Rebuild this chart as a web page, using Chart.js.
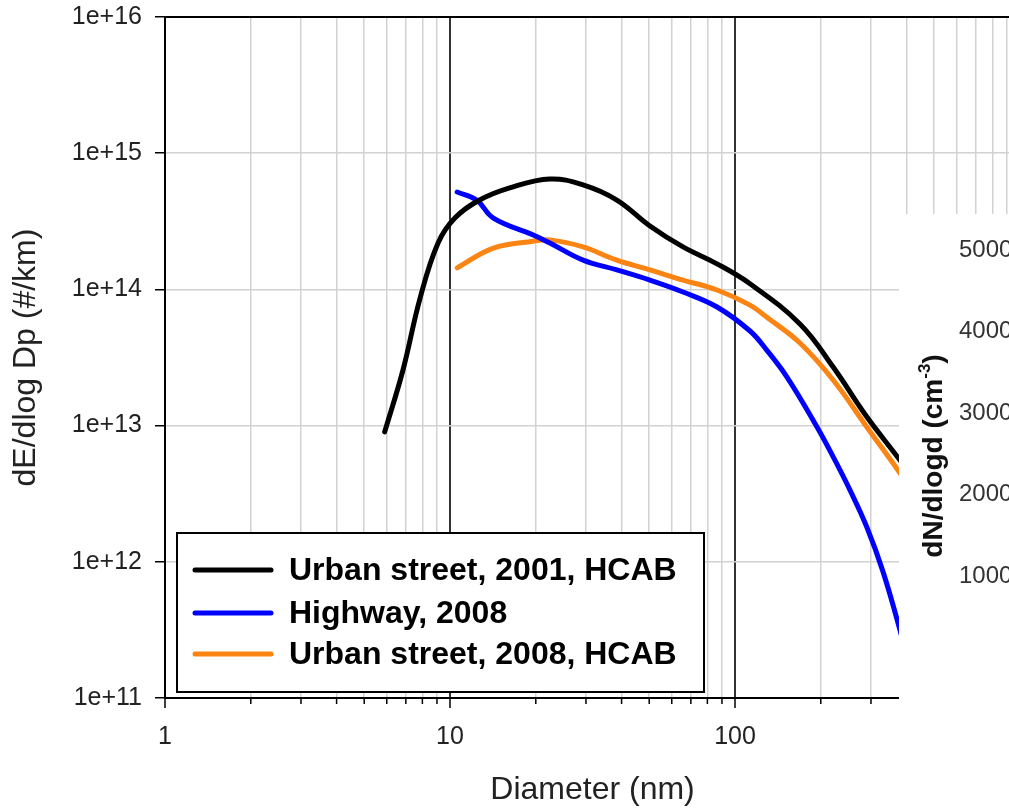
<!DOCTYPE html>
<html>
<head>
<meta charset="utf-8">
<script src="https://cdn.jsdelivr.net/npm/chart.js@4.4.0/dist/chart.umd.min.js"></script>
<style>
html, body { margin: 0; padding: 0; background: #fff; overflow: hidden; }
#wrap { width: 1009px; height: 809px; overflow: hidden; }
</style>
</head>
<body>
<div id="wrap"><canvas id="grafico" width="1030" height="809"></canvas></div>
<script>
// valores (diametro em nm, dE/dlog Dp em #/km)
const diamUrban2001 = [5.9, 6.84, 7.85, 9.08, 10.4, 12.7, 16.2, 22.4, 29.3, 38.5, 50.3, 65.7, 86.5, 112.9, 169, 221, 290, 379, 420];
const urban2001 = [9.0e12, 2.56e13, 8.6e13, 2.19e14, 3.34e14, 4.53e14, 5.56e14, 6.47e14, 5.85e14, 4.53e14, 2.92e14, 2.05e14, 1.54e14, 1.10e14, 5.57e13, 2.69e13, 1.16e13, 5.58e12, 4.1e12];

const diamHighway = [10.6, 12.4, 14.2, 19.6, 22.4, 29.3, 38.5, 50.3, 65.7, 86.5, 112.9, 129, 152, 194, 221, 253, 290, 331, 379, 420];
const highway2008 = [5.19e14, 4.53e14, 3.34e14, 2.51e14, 2.19e14, 1.64e14, 1.39e14, 1.17e14, 9.57e13, 7.43e13, 4.95e13, 3.6e13, 2.28e13, 9.77e12, 5.9e12, 3.37e12, 1.8e12, 8.4e11, 3.16e11, 1.35e11];

const diamUrban2008 = [10.6, 14.2, 19.6, 22.4, 29.3, 38.5, 50.3, 65.7, 86.5, 112.9, 129, 169, 221, 290, 379, 420];
const urban2008 = [1.44e14, 2.01e14, 2.26e14, 2.31e14, 2.05e14, 1.64e14, 1.39e14, 1.17e14, 9.9e13, 7.67e13, 6.27e13, 4.04e13, 2.16e13, 9.77e12, 4.49e12, 3.25e12];

const nomes = ['Urban street, 2001, HCAB', 'Highway, 2008', 'Urban street, 2008, HCAB'];
const cores = ['#000000', '#0000ff', '#fb8412'];

const xMajor = [1, 10, 100, 1000];
const xLabels = ['1', '10', '100', ''];
const yMajor = [1e11, 1e12, 1e13, 1e14, 1e15, 1e16];
const yLabels = ['1e+11', '1e+12', '1e+13', '1e+14', '1e+15', '1e+16'];

// textos do grafico vizinho que aparece cortado a direita
const painelTicks = ['5000', '4000', '3000', '2000', '1000'];

const FONTE = "'Liberation Sans', Arial, sans-serif";

function pares(xs, ys) {
  return xs.map(function (x, i) { return { x: x, y: ys[i] }; });
}

function ehMajor(v) {
  return xMajor.indexOf(v) >= 0;
}

// ticks menores do eixo x: 2..9 de cada decada
const xTodos = [];
xMajor.forEach(function (d, i) {
  xTodos.push(d);
  if (i < xMajor.length - 1) {
    for (let k = 2; k <= 9; k++) xTodos.push(d * k);
  }
});

const extras = {
  id: 'extras',
  afterDraw: function (chart) {
    const ctx = chart.ctx;
    const area = chart.chartArea;
    const xs = chart.scales.x;

    // linha de cima
    ctx.save();
    ctx.strokeStyle = '#000';
    ctx.lineWidth = 2;
    ctx.beginPath();
    ctx.moveTo(area.left, area.top);
    ctx.lineTo(chart.width, area.top);
    ctx.stroke();

    // ticks curtos
    ctx.lineWidth = 1.5;
    xTodos.forEach(function (v) {
      if (ehMajor(v)) return;
      const px = xs.getPixelForValue(v);
      ctx.beginPath();
      ctx.moveTo(px, area.bottom);
      ctx.lineTo(px, area.bottom + 6);
      ctx.stroke();
    });

    // legenda
    const bx = 177, by = 533, bw = 527, bh = 159;
    ctx.fillStyle = '#fff';
    ctx.fillRect(bx, by, bw, bh);
    ctx.strokeStyle = '#000';
    ctx.lineWidth = 2;
    ctx.strokeRect(bx, by, bw, bh);
    const linhas = [570, 613, 654];
    chart.data.datasets.forEach(function (ds, i) {
      ctx.strokeStyle = ds.borderColor;
      ctx.lineWidth = 5;
      ctx.lineCap = 'round';
      ctx.beginPath();
      ctx.moveTo(195, linhas[i]);
      ctx.lineTo(271, linhas[i]);
      ctx.stroke();
      ctx.fillStyle = '#000';
      ctx.font = 'bold 32px ' + FONTE;
      ctx.textBaseline = 'middle';
      ctx.textAlign = 'left';
      ctx.fillText(ds.label, 289, linhas[i] + 1);
    });

    // painel branco do outro grafico
    ctx.fillStyle = '#fff';
    ctx.fillRect(899, 214, chart.width - 899, chart.height - 214);
    ctx.fillStyle = '#333';
    ctx.font = '24px ' + FONTE;
    ctx.textAlign = 'left';
    ctx.textBaseline = 'middle';
    painelTicks.forEach(function (t, i) {
      ctx.fillText(t, 959, 250 + i * 81.5);
    });

    ctx.translate(934, 456);
    ctx.rotate(-Math.PI / 2);
    ctx.fillStyle = '#111';
    const t1 = 'dN/dlogd (cm', sup = '-3', t2 = ')';
    ctx.font = 'bold 28px ' + FONTE;
    const w1 = ctx.measureText(t1).width;
    const w3 = ctx.measureText(t2).width;
    ctx.font = 'bold 17px ' + FONTE;
    const w2 = ctx.measureText(sup).width;
    const x0 = -(w1 + w2 + w3) / 2;
    ctx.textAlign = 'left';
    ctx.textBaseline = 'middle';
    ctx.font = 'bold 28px ' + FONTE;
    ctx.fillText(t1, x0, 0);
    ctx.font = 'bold 17px ' + FONTE;
    ctx.fillText(sup, x0 + w1, -9);
    ctx.font = 'bold 28px ' + FONTE;
    ctx.fillText(t2, x0 + w1 + w2, 0);
    ctx.restore();
  }
};

const series = [
  pares(diamUrban2001, urban2001),
  pares(diamHighway, highway2008),
  pares(diamUrban2008, urban2008)
];

const grafico = new Chart(document.getElementById('grafico'), {
  type: 'line',
  data: {
    datasets: series.map(function (s, i) {
      return {
        label: nomes[i],
        data: s,
        borderColor: cores[i],
        backgroundColor: cores[i],
        borderWidth: 5,
        pointRadius: 0,
        tension: 0.4,
        borderCapStyle: 'round',
        borderJoinStyle: 'round',
        fill: false
      };
    })
  },
  options: {
    responsive: false,
    animation: false,
    devicePixelRatio: 1,
    layout: { padding: { top: 17, right: 10, left: 0, bottom: 0 } },
    plugins: {
      legend: { display: false },
      tooltip: { enabled: false }
    },
    scales: {
      x: {
        type: 'logarithmic',
        min: 1,
        max: 1000,
        afterBuildTicks: function (scale) {
          scale.ticks = xTodos.map(function (v) { return { value: v, major: ehMajor(v) }; });
        },
        afterFit: function (scale) {
          scale.height = 111;
          scale.paddingLeft = 0;
          scale.paddingRight = 0;
        },
        ticks: {
          autoSkip: false,
          maxRotation: 0,
          padding: 14,
          color: '#222',
          font: { size: 25, family: FONTE },
          callback: function (v) {
            const i = xMajor.indexOf(v);
            return i >= 0 ? xLabels[i] : '';
          }
        },
        grid: {
          color: function (c) { return c.tick && ehMajor(c.tick.value) ? '#333' : '#d2d2d2'; },
          lineWidth: function (c) { return c.tick && ehMajor(c.tick.value) ? 2 : 1.5; },
          tickColor: function (c) { return c.tick && ehMajor(c.tick.value) ? '#000' : 'rgba(0,0,0,0)'; },
          tickLength: 10,
          tickWidth: 1.5
        },
        border: { color: '#000', width: 2 },
        title: {
          display: true,
          text: 'Diameter (nm)',
          color: '#222',
          font: { size: 32, family: FONTE },
          padding: { top: 0, bottom: 0 }
        }
      },
      y: {
        type: 'logarithmic',
        min: 1e11,
        max: 1e16,
        afterBuildTicks: function (scale) {
          scale.ticks = yMajor.map(function (v) { return { value: v, major: true }; });
        },
        afterFit: function (scale) {
          scale.width = 165;
          scale.paddingTop = 0;
          scale.paddingBottom = 0;
        },
        ticks: {
          autoSkip: false,
          padding: 13,
          color: '#222',
          font: { size: 25, family: FONTE },
          callback: function (v) {
            const i = yMajor.indexOf(v);
            return i >= 0 ? yLabels[i] : '';
          }
        },
        grid: {
          color: '#d2d2d2',
          lineWidth: 1.5,
          tickColor: '#000',
          tickLength: 10,
          tickWidth: 1.5
        },
        border: { color: '#000', width: 2 },
        title: {
          display: true,
          text: 'dE/dlog Dp (#/km)',
          color: '#222',
          font: { size: 32, family: FONTE },
          padding: { top: 7, bottom: 0 }
        }
      }
    }
  },
  plugins: [extras]
});
</script>
</body>
</html>
